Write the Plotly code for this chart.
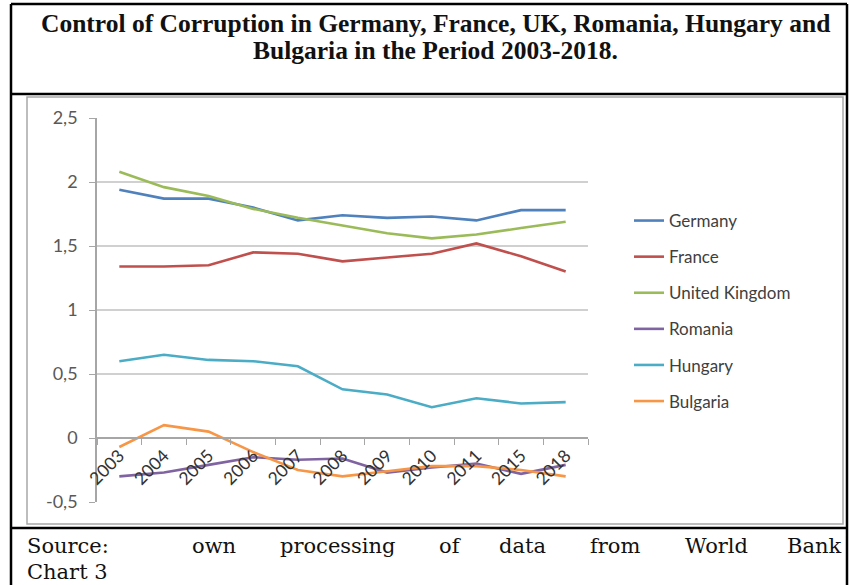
import plotly.graph_objects as go

# Control of Corruption estimates (World Bank WGI), 2003-2018
years = ["2003", "2004", "2005", "2006", "2007", "2008", "2009", "2010", "2011", "2015", "2018"]
germany = [1.94, 1.87, 1.87, 1.80, 1.70, 1.74, 1.72, 1.73, 1.70, 1.78, 1.78]
france = [1.34, 1.34, 1.35, 1.45, 1.44, 1.38, 1.41, 1.44, 1.52, 1.42, 1.30]
united_kingdom = [2.08, 1.96, 1.89, 1.79, 1.72, 1.66, 1.60, 1.56, 1.59, 1.64, 1.69]
romania = [-0.30, -0.27, -0.21, -0.15, -0.17, -0.16, -0.27, -0.23, -0.20, -0.28, -0.21]
hungary = [0.60, 0.65, 0.61, 0.60, 0.56, 0.38, 0.34, 0.24, 0.31, 0.27, 0.28]
bulgaria = [-0.07, 0.10, 0.05, -0.11, -0.25, -0.30, -0.26, -0.22, -0.22, -0.25, -0.30]

y_tickvals = [-0.5, 0, 0.5, 1, 1.5, 2, 2.5]
y_ticktext = ["-0,5", "0", "0,5", "1", "1,5", "2", "2,5"]

series = [
    ("Germany", germany, "#4F81BD"),
    ("France", france, "#C0504D"),
    ("United Kingdom", united_kingdom, "#9BBB59"),
    ("Romania", romania, "#8064A2"),
    ("Hungary", hungary, "#4BACC6"),
    ("Bulgaria", bulgaria, "#F79646"),
]

W, H = 849, 585
PL, PR, PT, PB = 97, 588, 118, 502  # plot area in pixels


def px(x):
    return (x - PL) / (PR - PL)


def py(y):
    return (PB - y) / (PB - PT)


fig = go.Figure()
for name, vals, color in series:
    fig.add_trace(go.Scatter(
        x=years, y=vals, name=name, mode="lines", legendgroup=name,
        line=dict(color=color, width=2.6),
    ))

axis_gray = "#a6a6a6"
fig.update_layout(
    width=W, height=H,
    margin=dict(l=PL, r=W - PR, t=PT, b=H - PB),
    paper_bgcolor="white", plot_bgcolor="white",
    showlegend=True,
    legend=dict(
        x=px(629), xanchor="left", y=py(203), yanchor="top",
        font=dict(family="Lato", size=17, color="#404040"),
        tracegroupgap=11, bgcolor="rgba(0,0,0,0)",
    ),
    xaxis=dict(
        type="category", categoryorder="array", categoryarray=years,
        range=[-0.5, len(years) - 0.5],
        anchor="free", position=py(438),
        showline=True, linecolor=axis_gray, linewidth=1.5,
        ticks="outside", tickson="boundaries", ticklen=6, tickcolor=axis_gray,
        showgrid=False, tickangle=-45,
        tickfont=dict(family="Lato", size=17.5, color="#333333"),
    ),
    yaxis=dict(
        range=[-0.5, 2.5], tickvals=y_tickvals, ticktext=y_ticktext,
        showline=True, linecolor=axis_gray, linewidth=1.5,
        ticks="outside", ticklen=6, tickcolor=axis_gray,
        showgrid=True, gridcolor="#d0d0d0", gridwidth=1.5, zeroline=False,
        tickfont=dict(family="Lato", size=18, color="#595959"),
        ticklabelstandoff=8,
    ),
)

# Frame: black outer box with title and source sections, gray chart border
black = dict(color="black", width=2.5)
frame = [
    (11, 4, 11, 590), (847, 4, 847, 590),
    (11, 4, 847, 4), (11, 94, 847, 94), (11, 528, 847, 528),
]
for x0, y0, x1, y1 in frame:
    fig.add_shape(type="line", xref="paper", yref="paper",
                  x0=px(x0), y0=py(y0), x1=px(x1), y1=py(y1), line=black)
fig.add_shape(type="rect", xref="paper", yref="paper",
              x0=px(27), y0=py(97), x1=px(843), y1=py(524),
              line=dict(color="#a8a8a8", width=1.5))

title_font = dict(family="Liberation Serif", size=25.5, color="#111111")
for text, yc in [("<b>Control of Corruption in Germany, France, UK, Romania, Hungary and</b>", 24),
                 ("<b>Bulgaria in the Period 2003-2018.</b>", 51)]:
    fig.add_annotation(text=text, xref="paper", yref="paper", x=px(435), y=py(yc),
                       xanchor="center", yanchor="middle", showarrow=False, font=title_font)

# Justified source line: each word pinned to its own column
source_font = dict(family="DejaVu Serif", size=21, color="#111111")
source_words = [("Source:", 25, "left"), ("own", 190, "left"), ("processing", 278, "left"),
                ("of", 437, "left"), ("data", 497, "left"), ("from", 588, "left"),
                ("World", 683, "left"), ("Bank", 843, "right")]
for word, x0, anchor in source_words:
    fig.add_annotation(text=word, xref="paper", yref="paper", x=px(x0), y=py(546),
                       xanchor=anchor, yanchor="middle", showarrow=False, font=source_font)
fig.add_annotation(text="Chart 3", xref="paper", yref="paper", x=px(25), y=py(572),
                   xanchor="left", yanchor="middle", showarrow=False, font=source_font)

fig.write_html("out.html")
